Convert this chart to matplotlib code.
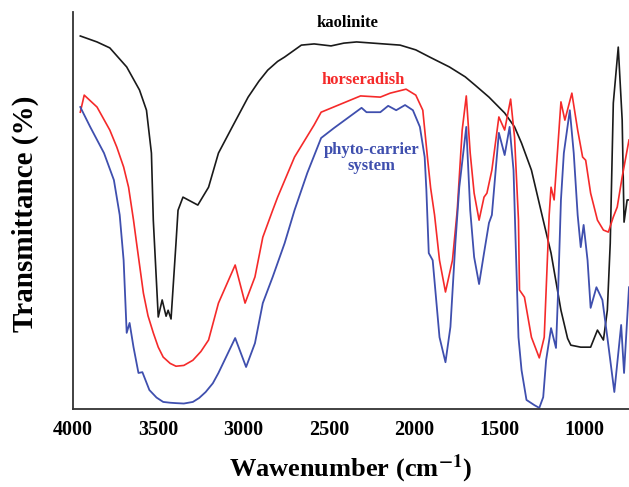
import numpy as np
import matplotlib.pyplot as plt

# spectre FTIR (numar de unda cm-1, transmitanta relativa)
wn_kaolinite = [3957, 3859, 3784, 3685, 3610, 3569, 3540, 3529, 3500, 3477, 3454, 3442, 3425,
                3396, 3384, 3355, 3268, 3205, 3147, 3066, 2973, 2910, 2858, 2800, 2759, 2661, 2586,
                2487, 2412, 2337, 2082, 1990, 1909, 1793, 1700, 1642, 1561, 1469, 1411, 1370, 1312,
                1243, 1197, 1139, 1100, 1081, 1023, 965, 925, 890, 867, 850, 832, 803, 780, 769, 751, 740]
t_kaolinite = [94.0, 92.5, 91.0, 86.2, 80.4, 75.3, 64.5, 47.6, 23.2, 27.5, 23.4, 24.9, 22.7,
               41.8, 50.1, 53.4, 51.4, 55.9, 64.5, 71.1, 78.6, 82.6, 85.4, 87.6, 88.7, 91.7, 92.0,
               91.5, 92.2, 92.5, 91.7, 90.5, 88.7, 86.2, 83.7, 81.6, 78.6, 74.6, 71.1, 67.0, 60.2,
               47.6, 39.3, 24.9, 17.8, 16.1, 15.6, 15.6, 19.9, 17.4, 24.9, 41.8, 77.1, 91.2, 72.8, 47.1, 52.7, 52.7]

wn_horseradish = [3957, 3934, 3859, 3784, 3743, 3703, 3674, 3645, 3627, 3587, 3560, 3529, 3500,
                  3471, 3430, 3396, 3350, 3297, 3250, 3205, 3147, 3049, 2991, 2933, 2887, 2829,
                  2800, 2701, 2586, 2545, 2314, 2198, 2140, 2047, 1990, 1949, 1920, 1903, 1880,
                  1851, 1816, 1775, 1747, 1718, 1694, 1671, 1648, 1619, 1590, 1573, 1544, 1503,
                  1469, 1434, 1411, 1388, 1382, 1353, 1312, 1266, 1237, 1208, 1197, 1179, 1139,
                  1116, 1075, 1041, 1012, 994, 965, 925, 890, 861, 832, 809, 780, 740]
t_horseradish = [74.8, 79.1, 76.1, 70.3, 66.0, 61.0, 55.9, 47.6, 41.8, 29.2, 23.5, 19.2, 15.6,
                 13.1, 11.5, 10.8, 11.0, 12.3, 14.5, 17.4, 26.7, 36.3, 26.7, 33.3, 43.3, 50.1,
                 53.4, 63.5, 71.6, 74.8, 78.9, 78.6, 79.6, 80.6, 79.1, 75.3, 62.7, 55.7, 48.9,
                 37.5, 29.5, 37.5, 50.1, 70.3, 78.9, 64.5, 54.4, 47.6, 53.4, 54.4, 60.2, 73.6,
                 70.3, 78.1, 68.5, 47.6, 30.0, 28.2, 18.1, 12.9, 18.1, 48.9, 55.9, 52.7, 77.4,
                 72.8, 79.6, 70.3, 63.5, 62.7, 54.4, 47.6, 45.1, 44.6, 48.4, 50.9, 58.5, 67.8]

wn_phyto = [3957, 3899, 3818, 3760, 3726, 3703, 3685, 3668, 3645, 3616, 3593, 3552, 3510, 3471,
            3430, 3396, 3350, 3297, 3260, 3222, 3180, 3147, 3049, 2985, 2933, 2887, 2829, 2759,
            2701, 2626, 2545, 2470, 2308, 2279, 2198, 2152, 2105, 2053, 2007, 1966, 1938, 1928,
            1914, 1891, 1851, 1816, 1787, 1758, 1735, 1694, 1671, 1648, 1619, 1590, 1561, 1544,
            1503, 1469, 1440, 1417, 1405, 1388, 1370, 1341, 1295, 1266, 1243, 1226, 1197, 1168,
            1156, 1139, 1122, 1087, 1064, 1041, 1023, 1006, 983, 965, 931, 896, 867, 826, 786,
            769, 740]
t_phyto = [76.1, 71.1, 64.5, 57.7, 48.9, 37.5, 19.2, 21.7, 15.6, 9.1, 9.3, 4.8, 2.9, 1.8,
           1.6, 1.5, 1.4, 1.8, 2.8, 4.3, 6.5, 9.1, 17.9, 10.6, 16.6, 26.7, 33.3, 41.8,
           50.1, 59.5, 68.3, 70.8, 75.9, 74.8, 74.8, 76.4, 75.3, 76.6, 75.3, 71.1, 63.5, 55.2,
           39.3, 37.5, 18.1, 11.8, 20.7, 41.8, 55.9, 71.1, 50.1, 38.3, 31.5, 39.3, 46.9, 48.9,
           69.6, 64.0, 71.1, 60.2, 42.6, 18.1, 9.8, 2.3, 1.0, 0.3, 3.0, 12.3, 20.4, 15.4,
           29.2, 52.7, 64.5, 75.3, 64.5, 48.9, 40.8, 46.4, 37.5, 25.5, 30.7, 27.5, 18.1, 4.3, 21.2,
           9.1, 30.7]

plt.rcParams['font.family'] = ['Liberation Serif', 'DejaVu Serif']
plt.rcParams['mathtext.fontset'] = 'stix'

fig = plt.figure(figsize=(6.29, 4.87), dpi=100)
ax = fig.add_axes([0.116, 0.160, 0.884, 0.815])

ax.plot(wn_kaolinite, t_kaolinite, color="#1a1a1a", lw=1.2)
ax.plot(wn_horseradish, t_horseradish, color="#f52a2a", lw=1.2)
ax.plot(wn_phyto, t_phyto, color="#3f4fae", lw=1.3)

ax.set_xlim(3957, 740)
ax.set_ylim(0, 100)
ax.set_xticks([4000, 3500, 3000, 2500, 2000, 1500, 1000])
ax.set_yticks([])
ax.tick_params(axis="x", length=0, pad=8, labelsize=14.5)
for lab in ax.get_xticklabels():
    lab.set_fontweight("bold")
ax.spines["top"].set_visible(False)
ax.spines["right"].set_visible(False)
ax.spines["left"].set_linewidth(1.3)
ax.spines["bottom"].set_linewidth(1.3)
ax.spines["left"].set_color("#333333")
ax.spines["bottom"].set_color("#333333")

# etichete curbe
ax.text(2389, 97.3, "kaolinite", color="black", fontsize=12, fontweight="bold", ha="center", va="center")
ax.text(2296, 82.9, "horseradish", color="#f52a2a", fontsize=12, fontweight="bold", ha="center", va="center")
ax.text(2250, 63.3, "phyto-carrier\nsystem", color="#3f4fae", fontsize=12, fontweight="bold",
        ha="center", va="center", linespacing=1.05)

fig.text(0.041, 0.56, "Transmittance (%)", rotation=90, fontsize=21, fontweight="bold",
         ha="center", va="center")
fig.text(0.557, 0.038, r"Wawenumber (cm$\mathbf{^{-1}}$)", fontsize=19, fontweight="bold",
         ha="center", va="center")

plt.savefig("out.png", dpi=100)
